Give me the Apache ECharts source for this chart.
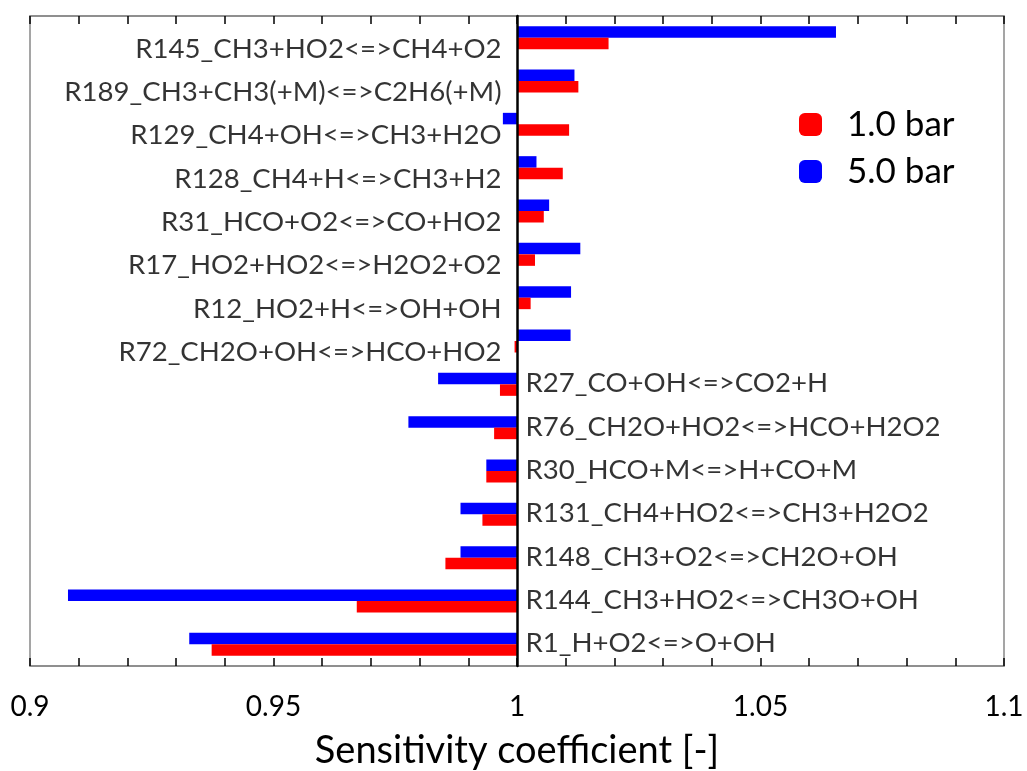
<!DOCTYPE html>
<html>
<head>
<meta charset="utf-8">
<script src="https://cdn.jsdelivr.net/npm/echarts@6/dist/echarts.min.js"></script>
<style>
html,body{margin:0;padding:0;background:#fff;}
#chart{width:1027px;height:771px;}
</style>
</head>
<body>
<div id="chart"></div>
<script>
// Reactions, top to bottom
const categories = [
  'R145_CH3+HO2<=>CH4+O2',
  'R189_CH3+CH3(+M)<=>C2H6(+M)',
  'R129_CH4+OH<=>CH3+H2O',
  'R128_CH4+H<=>CH3+H2',
  'R31_HCO+O2<=>CO+HO2',
  'R17_HO2+HO2<=>H2O2+O2',
  'R12_HO2+H<=>OH+OH',
  'R72_CH2O+OH<=>HCO+HO2',
  'R27_CO+OH<=>CO2+H',
  'R76_CH2O+HO2<=>HCO+H2O2',
  'R30_HCO+M<=>H+CO+M',
  'R131_CH4+HO2<=>CH3+H2O2',
  'R148_CH3+O2<=>CH2O+OH',
  'R144_CH3+HO2<=>CH3O+OH',
  'R1_H+O2<=>O+OH'
];
// Sensitivity coefficients
const bar1 = [1.0188, 1.0126, 1.0107, 1.0094, 1.0055, 1.0037, 1.0028, 0.9995,
              0.9965, 0.9953, 0.9937, 0.9929, 0.9853, 0.9671, 0.9373];
const bar5 = [1.0655, 1.0118, 0.9971, 1.0040, 1.0066, 1.0130, 1.0111, 1.0110,
              0.9838, 0.9777, 0.9937, 0.9884, 0.9884, 0.9078, 0.9327];
const seriesNames = ['1.0 bar', '5.0 bar'];
const baseline = 1;

const FONT = 'Lato';
const dev = arr => arr.map(v => +(v - baseline).toFixed(6));
const fmt = v => String(Math.round((baseline + v) * 1000) / 1000);

const labelData = categories.map((c, i) => {
  const left = Math.max(bar1[i], bar5[i]) > baseline;
  return {
    value: [0, i],
    label: left
      ? { position: 'left', distance: 15, offset: [0, 11] }
      : { position: 'right', distance: 8, offset: [0, -1] }
  };
});

const tickStyle = { color: '#000', width: 1.5 };

const chart = echarts.init(document.getElementById('chart'));
chart.setOption({
  animation: false,
  backgroundColor: '#fff',
  grid: {
    left: 30, right: 23, top: 16, bottom: 105,
    outerBoundsMode: 'none', containLabel: false,
    show: true, borderColor: '#888', borderWidth: 1.5, backgroundColor: 'transparent'
  },
  legend: {
    data: seriesNames,
    orient: 'vertical',
    left: 794, top: 102,
    itemWidth: 23, itemHeight: 23, itemGap: 12,
    icon: 'roundRect',
    textStyle: { fontFamily: FONT, fontSize: 35, color: '#000', padding: [0, 0, 0, 20] }
  },
  xAxis: [{
    type: 'value', position: 'bottom',
    min: -0.1, max: 0.1, interval: 0.05,
    axisLine: { show: true, onZero: false, lineStyle: { color: '#888', width: 1.5 } },
    axisTick: { show: true, inside: true, length: 8, lineStyle: tickStyle },
    minorTick: { show: true, splitNumber: 5, length: 8, lineStyle: tickStyle },
    splitLine: { show: false },
    axisLabel: { formatter: fmt, fontFamily: FONT, fontSize: 28, color: '#000', margin: 27 },
    name: 'Sensitivity coefficient [-]',
    nameLocation: 'middle', nameGap: 66,
    nameTextStyle: { fontFamily: FONT, fontSize: 38, color: '#000' }
  }, {
    type: 'value', position: 'top',
    min: -0.1, max: 0.1, interval: 0.05,
    axisLine: { show: true, onZero: false, lineStyle: { color: '#888', width: 1.5 } },
    axisTick: { show: true, inside: true, length: 8, lineStyle: tickStyle },
    minorTick: { show: true, splitNumber: 5, length: 8, lineStyle: tickStyle },
    splitLine: { show: false },
    axisLabel: { show: false }
  }],
  yAxis: {
    type: 'category', inverse: true, data: categories,
    axisLine: { show: true, onZero: true, lineStyle: { color: '#000', width: 2.5 } },
    axisTick: { show: false },
    axisLabel: { show: false },
    splitLine: { show: false },
    z: 5
  },
  series: [{
    name: seriesNames[1], type: 'bar', data: dev(bar5),
    barWidth: 11.5, barGap: '0%',
    itemStyle: { color: '#0000ff' }
  }, {
    name: seriesNames[0], type: 'bar', data: dev(bar1),
    barWidth: 11.5, barGap: '0%',
    itemStyle: { color: '#ff0000' }
  }, {
    name: 'labels', type: 'scatter', data: labelData,
    symbolSize: 1, itemStyle: { color: 'rgba(0,0,0,0)' }, silent: true,
    label: {
      show: true, formatter: p => categories[p.value[1]],
      fontFamily: FONT, fontSize: 27.6, color: '#000'
    },
    z: 6
  }]
});
</script>
</body>
</html>
